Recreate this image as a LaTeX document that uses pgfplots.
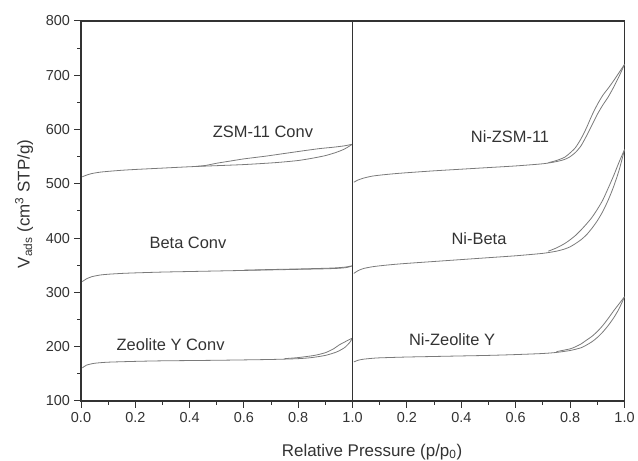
\documentclass[border=0pt]{standalone}
\usepackage{fontspec}
\setmainfont{Liberation Sans}
\usepackage{pgfplots}
\pgfplotsset{compat=1.18}
\definecolor{axc}{HTML}{333333}
\definecolor{lc}{HTML}{7A7A7A}
\tikzset{ann/.style={font=\fontsize{16.5}{18}\selectfont, text=axc},
  iso/.style={lc, line width=0.8pt, solid, mark=none, smooth, tension=0.4}}
\begin{document}
\begin{tikzpicture}[x=1bp,y=1bp]
\pgfplotsset{
  common/.style={
    scale only axis, height=380bp, ymin=100, ymax=800, xmin=0, xmax=1,
    every axis/.append style={line width=1.5pt},
    axis line style={axc, line width=1.5pt},
    tick style={axc, line width=1pt},
    tick align=outside, major tick length=7bp, minor tick length=4bp,
    xtick={0,0.2,0.4,0.6,0.8,1.0}, minor x tick num=1,
    xtick pos=bottom, ytick pos=left,
    ticklabel style={font=\fontsize{14.5}{16}\selectfont, text=axc},
    clip=false,
  },
}
% ---------------- left panel ----------------
\begin{axis}[common, width=271.5bp, at={(81bp,60bp)}, anchor=south west,
  xticklabels={0.0,0.2,0.4,0.6,0.8,1.0},
  ytick={100,200,300,400,500,600,700,800},
  yticklabels={100,200,300,400,500,600,700,800},
  minor y tick num=1]
% ZSM-11 Conv
\addplot[iso] coordinates {(0.005,513)(0.02,516)(0.04,519)(0.07,521.5)(0.1,523)(0.15,525)(0.2,526.5)(0.3,529)(0.4,531.5)(0.5,533.5)(0.6,535.5)(0.7,538.5)(0.75,540.5)(0.8,543)(0.85,547)(0.9,552)(0.94,558)(0.97,564)(0.99,570)(1.0,573)};
\addplot[iso] coordinates {(1.0,573)(0.97,570)(0.93,567.5)(0.88,565)(0.82,561)(0.75,556)(0.68,551)(0.6,546)(0.55,542)(0.5,538)(0.46,534)(0.42,532)};
% Beta Conv
\addplot[iso] coordinates {(0.005,320)(0.02,325)(0.04,329)(0.07,332)(0.1,333.5)(0.15,335)(0.2,336)(0.3,337.5)(0.4,338.5)(0.5,339.5)(0.6,340.5)(0.7,341.5)(0.8,342.5)(0.9,343.5)(0.95,344.5)(0.98,346)(1.0,349)};
\addplot[iso] coordinates {(1.0,349)(0.97,346.5)(0.93,345)(0.88,344.2)(0.8,343.2)(0.7,342.2)(0.6,341)};
% Zeolite Y Conv
\addplot[iso] coordinates {(0.005,161)(0.02,166)(0.05,169.5)(0.1,171.5)(0.2,173)(0.3,174)(0.5,175)(0.7,176.5)(0.8,178)(0.85,180)(0.9,184)(0.94,190)(0.97,198)(0.99,208)(1.0,216)};
\addplot[iso] coordinates {(1.0,216)(0.98,211)(0.95,203)(0.93,196)(0.9,189)(0.86,184)(0.8,180)(0.75,178)};
\node[ann] at (axis cs:0.67,595) {ZSM-11 Conv};
\node[ann] at (axis cs:0.394,392) {Beta Conv};
\node[ann] at (axis cs:0.33,203) {Zeolite Y Conv};
\end{axis}
% ---------------- right panel ----------------
\begin{axis}[common, width=272bp, at={(352.5bp,60bp)}, anchor=south west,
  xticklabels={,0.2,0.4,0.6,0.8,1.0},
  ytick=\empty, minor y tick num=0]
% Ni-ZSM-11
\addplot[iso] coordinates {(0.005,503)(0.02,507)(0.04,510.5)(0.07,514)(0.1,516)(0.15,518.5)(0.2,520.5)(0.3,524)(0.4,527)(0.5,530)(0.6,533)(0.7,537)(0.75,541)(0.78,545)(0.8,550)(0.82,558)(0.84,570)(0.86,588)(0.88,608)(0.9,628)(0.92,645)(0.94,660)(0.96,678)(0.98,698)(1.0,720)};
\addplot[iso] coordinates {(1.0,720)(0.98,705)(0.96,690)(0.94,676)(0.92,663)(0.9,646)(0.88,626)(0.86,603)(0.84,583)(0.82,567)(0.8,557)(0.78,549)(0.75,543)(0.72,539)};
% Ni-Beta
\addplot[iso] coordinates {(0.005,335)(0.02,340)(0.04,344)(0.07,347)(0.1,349)(0.15,351.5)(0.2,353.5)(0.3,357)(0.4,360.5)(0.5,364)(0.6,367.5)(0.7,372)(0.75,376)(0.78,380)(0.8,384)(0.82,390)(0.84,397)(0.86,406)(0.88,418)(0.9,432)(0.92,449)(0.94,470)(0.96,495)(0.98,525)(1.0,563)};
\addplot[iso] coordinates {(1.0,563)(0.98,540)(0.96,515)(0.94,492)(0.92,470)(0.9,453)(0.88,438)(0.86,426)(0.84,415)(0.82,405)(0.8,397)(0.78,390)(0.75,382)(0.72,376)};
% Ni-Zeolite Y
\addplot[iso] coordinates {(0.005,172)(0.02,175)(0.04,177)(0.07,178.5)(0.1,179.5)(0.2,181)(0.3,182)(0.4,183)(0.5,184)(0.6,185.5)(0.7,187.5)(0.75,189.5)(0.8,193)(0.84,198)(0.86,203)(0.88,209)(0.9,217)(0.92,227)(0.94,239)(0.96,253)(0.98,270)(1.0,292)};
\addplot[iso] coordinates {(1.0,292)(0.98,279)(0.96,266)(0.94,252)(0.92,239)(0.9,228)(0.88,219)(0.86,212)(0.84,205)(0.82,200)(0.8,196)(0.75,191)};
\node[ann] at (axis cs:0.579,587) {Ni-ZSM-11};
\node[ann] at (axis cs:0.465,399) {Ni-Beta};
\node[ann] at (axis cs:0.366,213) {Ni-Zeolite Y};
\end{axis}
% axis labels
\node[rotate=90, font=\fontsize{17}{19}\selectfont, text=axc] at (24,257) {V\textsubscript{ads} (cm\textsuperscript{3} STP/g)};
\node[font=\fontsize{17}{19}\selectfont, text=axc] at (372,9) {Relative Pressure (p/p\textsubscript{0})};
\pgfresetboundingbox
\useasboundingbox (0,0) rectangle (638,461);
\end{tikzpicture}
\end{document}
